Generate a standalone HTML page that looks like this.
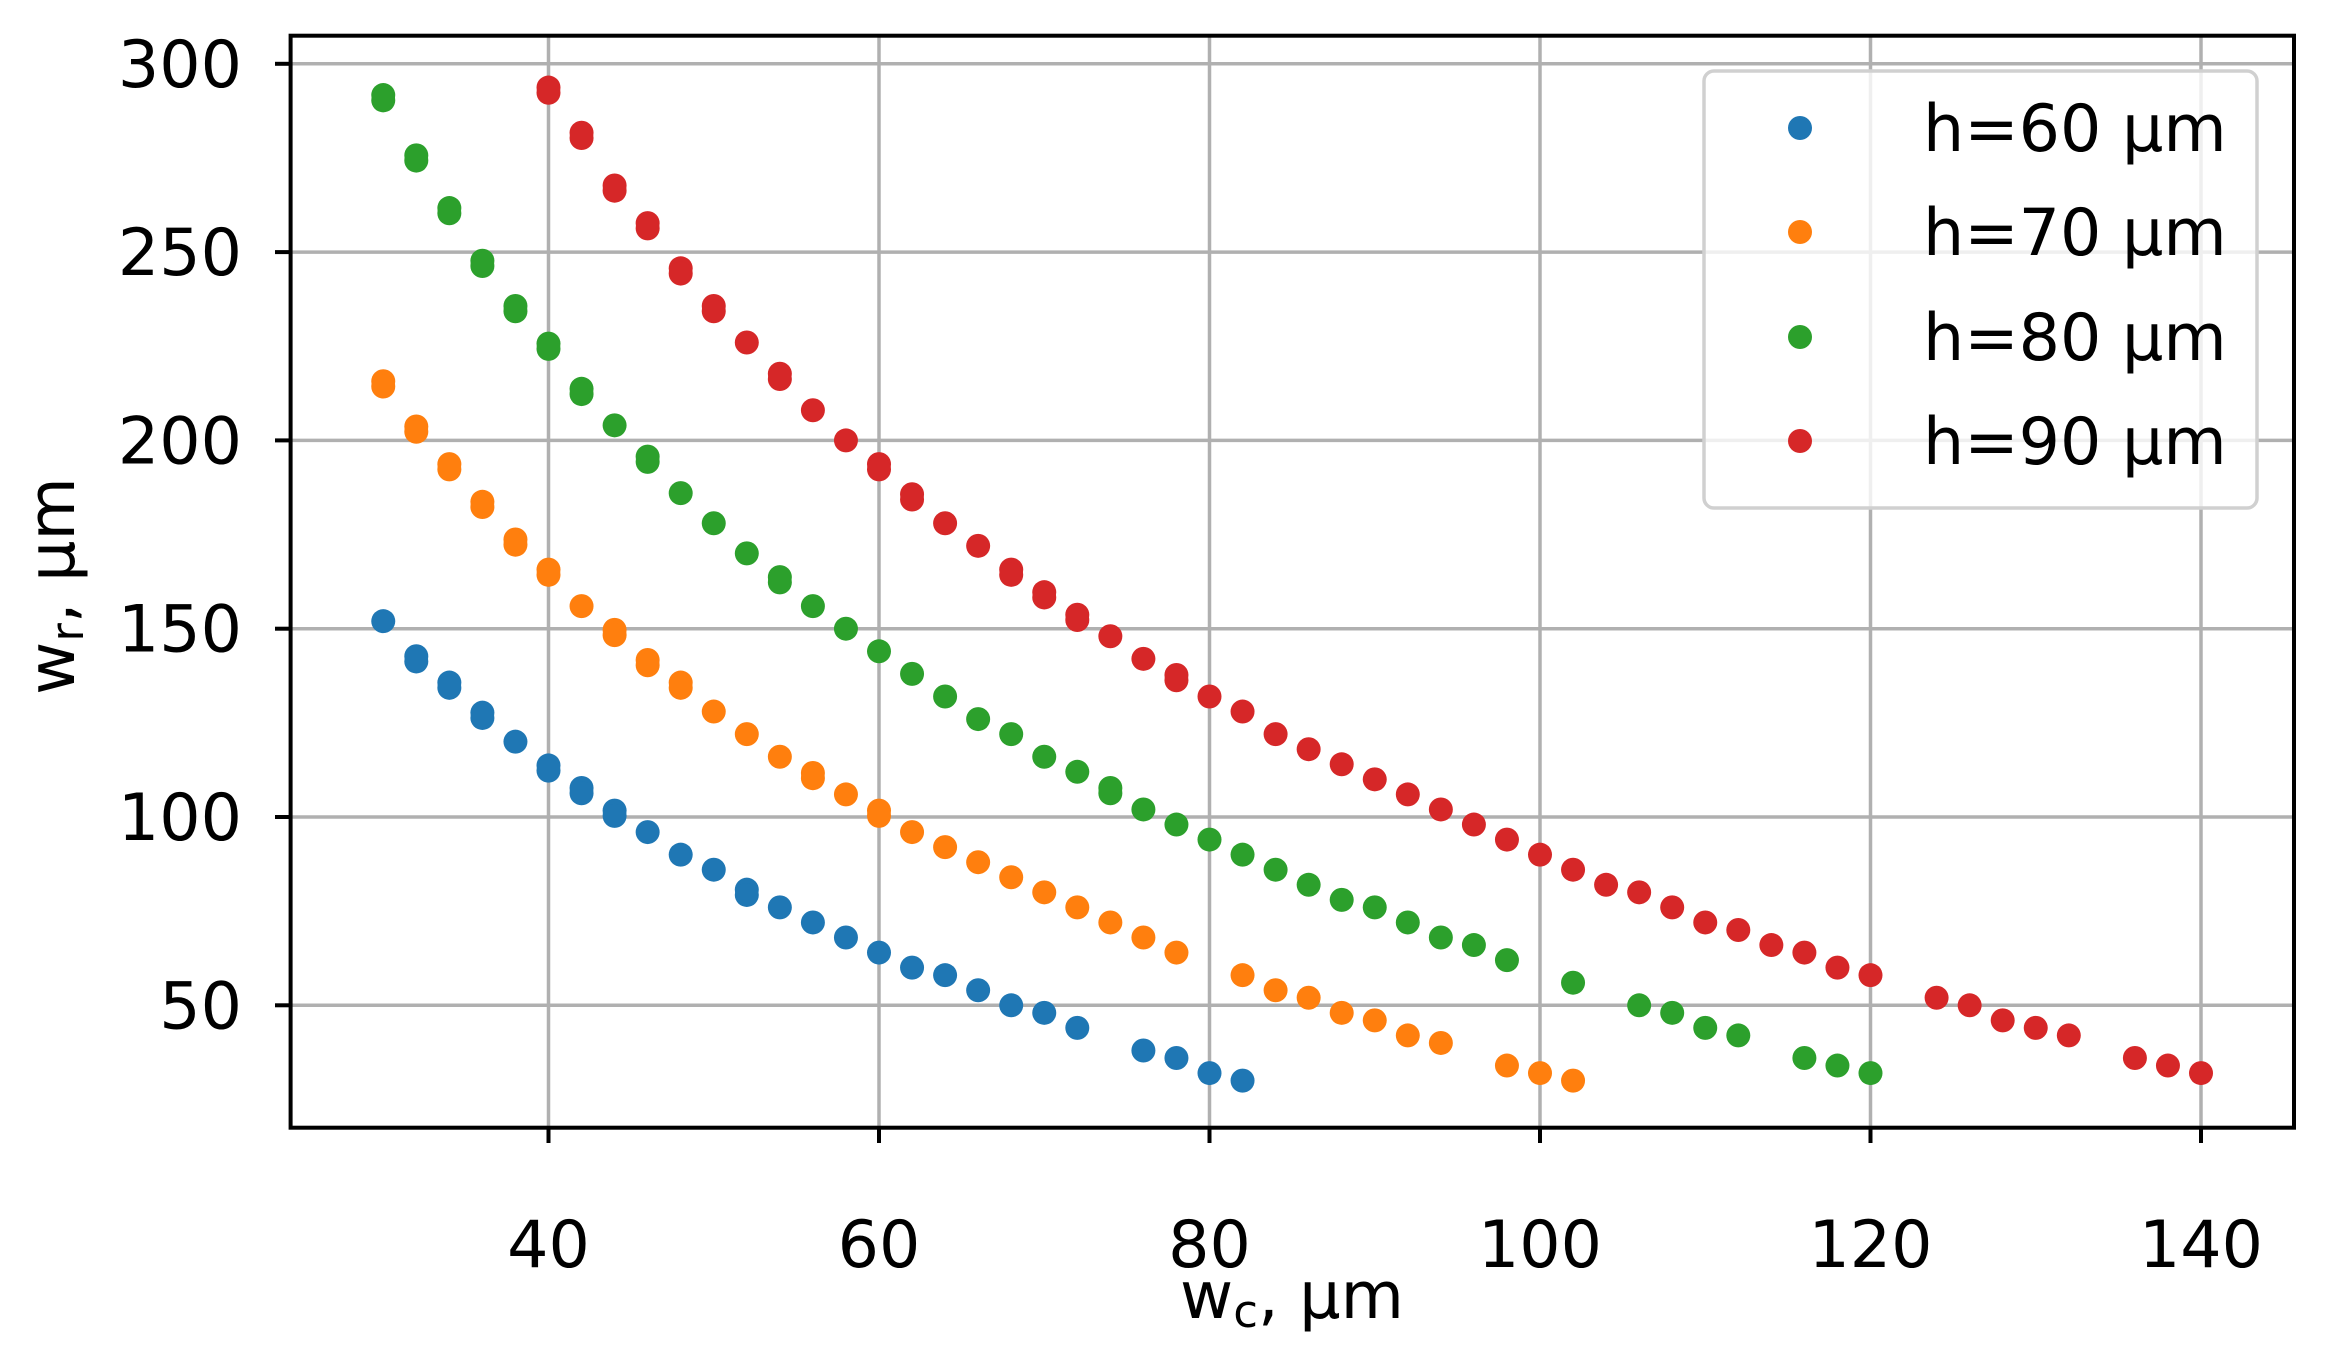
<!DOCTYPE html>
<html><head><meta charset="utf-8"><style>
html,body{margin:0;padding:0;background:#fff;}
svg{display:block;font-family:"DejaVu Sans","Liberation Sans",sans-serif;}
</style></head><body>
<svg id="s" width="2328" height="1355" viewBox="0 0 2328 1355" xmlns="http://www.w3.org/2000/svg">
<rect width="2328" height="1355" fill="#fff"/>
<g id="grid" stroke="#b0b0b0" stroke-width="3.5"></g>
<g id="pts"></g>
<rect x="290.6" y="35.7" width="2003.4" height="1092" fill="none" stroke="#000" stroke-width="4"/>
<g id="ticks" stroke="#000" stroke-width="4"></g>
<g id="labels" font-size="65" fill="#000"></g>
<text x="1292" y="1318" font-size="65" text-anchor="middle">w<tspan font-size="45" dy="9">c</tspan><tspan dy="-9">, µm</tspan></text>
<text transform="translate(74,586) rotate(-90)" font-size="65" text-anchor="middle">w<tspan font-size="45" dy="9">r</tspan><tspan dy="-9">, µm</tspan></text>
<g>
<rect x="1704" y="71" width="553" height="437" rx="10" fill="#fff" fill-opacity="0.8" stroke="#d0d0d0" stroke-width="3.5"/>
<circle cx="1800" cy="128" r="12" fill="#1f77b4"/><text x="1923" y="151" font-size="65">h=60 µm</text>
<circle cx="1800" cy="232" r="12" fill="#ff7f0e"/><text x="1923" y="255" font-size="65">h=70 µm</text>
<circle cx="1800" cy="337" r="12" fill="#2ca02c"/><text x="1923" y="360" font-size="65">h=80 µm</text>
<circle cx="1800" cy="441" r="12" fill="#d62728"/><text x="1923" y="464" font-size="65">h=90 µm</text>
</g>
</svg>
<script>
var NS="http://www.w3.org/2000/svg";
function X(v){return 548.5+(v-40)*16.525;}
function Y(v){return 63.8+(300-v)*3.766;}
function el(p,t,a,txt){var e=document.createElementNS(NS,t);for(var k in a)e.setAttribute(k,a[k]);if(txt)e.textContent=txt;document.getElementById(p).appendChild(e);return e;}
for(var v=40;v<=140;v+=20){el("grid","line",{x1:X(v),x2:X(v),y1:35.7,y2:1127.7});el("ticks","line",{x1:X(v),x2:X(v),y1:1127.7,y2:1143});el("labels","text",{x:X(v),y:1267,"text-anchor":"middle"},String(v));}
for(var v=50;v<=300;v+=50){el("grid","line",{x1:290.6,x2:2294,y1:Y(v),y2:Y(v)});el("ticks","line",{x1:275,x2:290.6,y1:Y(v),y2:Y(v)});el("labels","text",{x:242,y:Y(v)+23,"text-anchor":"end"},String(v));}
var D={
"#1f77b4":[[30,152],[32,143,141],[34,136,134],[36,128,126],[38,120],[40,114,112],[42,108,106],[44,102,100],[46,96],[48,90],[50,86],[52,81,79],[54,76],[56,72],[58,68],[60,64],[62,60],[64,58],[66,54],[68,50],[70,48],[72,44],[76,38],[78,36],[80,32],[82,30]],
"#ff7f0e":[[30,216,214],[32,204,202],[34,194,192],[36,184,182],[38,174,172],[40,166,164],[42,156],[44,150,148],[46,142,140],[48,136,134],[50,128],[52,122],[54,116],[56,112,110],[58,106],[60,102,100],[62,96],[64,92],[66,88],[68,84],[70,80],[72,76],[74,72],[76,68],[78,64],[82,58],[84,54],[86,52],[88,48],[90,46],[92,42],[94,40],[98,34],[100,32],[102,30]],
"#2ca02c":[[30,292,290],[32,276,274],[34,262,260],[36,248,246],[38,236,234],[40,226,224],[42,214,212],[44,204],[46,196,194],[48,186],[50,178],[52,170],[54,164,162],[56,156],[58,150],[60,144],[62,138],[64,132],[66,126],[68,122],[70,116],[72,112],[74,108,106],[76,102],[78,98],[80,94],[82,90],[84,86],[86,82],[88,78],[90,76],[92,72],[94,68],[96,66],[98,62],[102,56],[106,50],[108,48],[110,44],[112,42],[116,36],[118,34],[120,32]],
"#d62728":[[40,294,292],[42,282,280],[44,268,266],[46,258,256],[48,246,244],[50,236,234],[52,226],[54,218,216],[56,208],[58,200],[60,194,192],[62,186,184],[64,178],[66,172],[68,166,164],[70,160,158],[72,154,152],[74,148],[76,142],[78,138,136],[80,132],[82,128],[84,122],[86,118],[88,114],[90,110],[92,106],[94,102],[96,98],[98,94],[100,90],[102,86],[104,82],[106,80],[108,76],[110,72],[112,70],[114,66],[116,64],[118,60],[120,58],[124,52],[126,50],[128,46],[130,44],[132,42],[136,36],[138,34],[140,32]]};
for(var c in D){D[c].forEach(function(p){
 if(p.length==2){el("pts","circle",{cx:X(p[0]),cy:Y(p[1]),r:12,fill:c});}
 else{var m=(p[1]+p[2])/2;el("pts","circle",{cx:X(p[0]),cy:Y(m+0.7),r:12,fill:c});el("pts","circle",{cx:X(p[0]),cy:Y(m-0.7),r:12,fill:c});}
});}
</script>
</body></html>
